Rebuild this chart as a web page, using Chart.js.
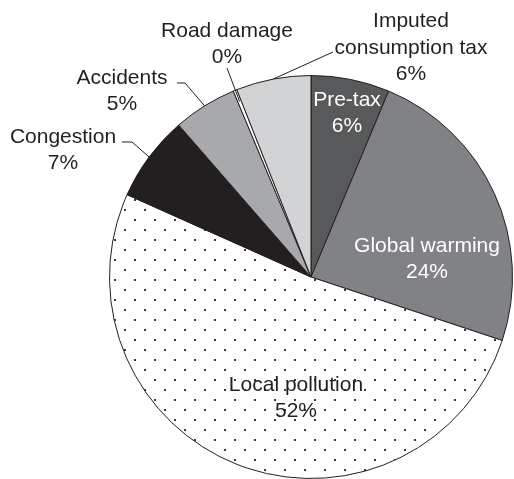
<!DOCTYPE html>
<html>
<head>
<meta charset="utf-8">
<script src="https://cdn.jsdelivr.net/npm/chart.js@4/dist/chart.umd.min.js"></script>
<style>
  html, body { margin: 0; padding: 0; background: #fff; }
  #wrap { width: 514px; height: 479px; }
</style>
</head>
<body>
<div id="wrap"><canvas id="myChart" width="514" height="479"></canvas></div>
<script>
// cost shares, clockwise from 12 o'clock
const categories = ["Pre-tax", "Global warming", "Local pollution", "Congestion", "Accidents", "Road damage", "Imputed consumption tax"];
const shares = [6.3, 23.8, 51.6, 6.9, 5.1, 0.3, 6.0];
const labelLines = [["Pre-tax"], ["Global warming"], ["Local pollution"], ["Congestion"], ["Accidents"], ["Road damage"], ["Imputed", "consumption tax"]];

const ink = "#231f20";

// dotted fill for local pollution
function dotPattern() {
  const tile = document.createElement("canvas");
  tile.width = 20;
  tile.height = 20;
  const t = tile.getContext("2d");
  t.fillStyle = "#fff";
  t.fillRect(0, 0, 20, 20);
  t.fillStyle = "#3a3a3a";
  t.fillRect(14, 19, 2, 2);
  t.fillRect(14, 0, 2, 1);
  t.fillRect(4, 9, 2, 2);
  return tile.getContext("2d").createPattern(tile, "repeat");
}

const fills = ["#58595b", "#808285", dotPattern(), ink, "#a7a9ac", "#ffffff", "#d1d3d4"];

// label placement, offsets in px from the pie centre
// leader: null, or points from the text towards the slice (last point is put on the slice)
const labelSetup = [
  { dx: 36, dy: -164, color: "#fff", leader: null },
  { dx: 116, dy: -18, color: "#fff", leader: null },
  { dx: -15, dy: 121, color: ink, leader: null },
  { dx: -248, dy: -127, color: ink, leader: [[-189, -135], [-179, -135]], reach: 1 },
  { dx: -189, dy: -186, color: ink, leader: [[-134, -194], [-126, -194]], reach: 1 },
  { dx: -84, dy: -233, color: ink, leader: [[-84, -209]], reach: 0.94 },
  { dx: 100, dy: -229, color: ink, leader: [[22, -225]], reach: 1 }
];

const sliceLabels = {
  id: "sliceLabels",
  afterDatasetsDraw(chart) {
    const ctx = chart.ctx;
    const arcs = chart.getDatasetMeta(0).data;
    ctx.save();
    ctx.font = '21px "Liberation Sans", Arial, sans-serif';
    ctx.textAlign = "center";
    ctx.textBaseline = "middle";
    arcs.forEach((arc, i) => {
      const cfg = labelSetup[i];
      const cx = arc.x, cy = arc.y;
      if (cfg.leader) {
        const mid = (arc.startAngle + arc.endAngle) / 2;
        const r = arc.outerRadius * cfg.reach;
        ctx.beginPath();
        ctx.strokeStyle = ink;
        ctx.lineWidth = 1;
        cfg.leader.forEach((p, k) => {
          if (k === 0) ctx.moveTo(cx + p[0], cy + p[1]);
          else ctx.lineTo(cx + p[0], cy + p[1]);
        });
        ctx.lineTo(cx + Math.cos(mid) * r, cy + Math.sin(mid) * r);
        ctx.stroke();
      }
      const lines = labelLines[i].concat([Math.round(shares[i]) + "%"]);
      const lh = 26.5;
      const top = cy + cfg.dy - (lines.length - 1) * lh / 2;
      ctx.fillStyle = cfg.color;
      lines.forEach((txt, k) => ctx.fillText(txt, cx + cfg.dx, top + k * lh));
    });
    ctx.restore();
  }
};

new Chart(document.getElementById("myChart"), {
  type: "pie",
  data: {
    labels: categories,
    datasets: [{
      data: shares,
      backgroundColor: fills,
      borderColor: ink,
      borderWidth: 1
    }]
  },
  options: {
    responsive: false,
    animation: false,
    layout: { padding: { left: 109, top: 75, right: 1, bottom: 0 } },
    plugins: {
      legend: { display: false },
      tooltip: { enabled: false }
    }
  },
  plugins: [sliceLabels]
});
</script>
</body>
</html>
